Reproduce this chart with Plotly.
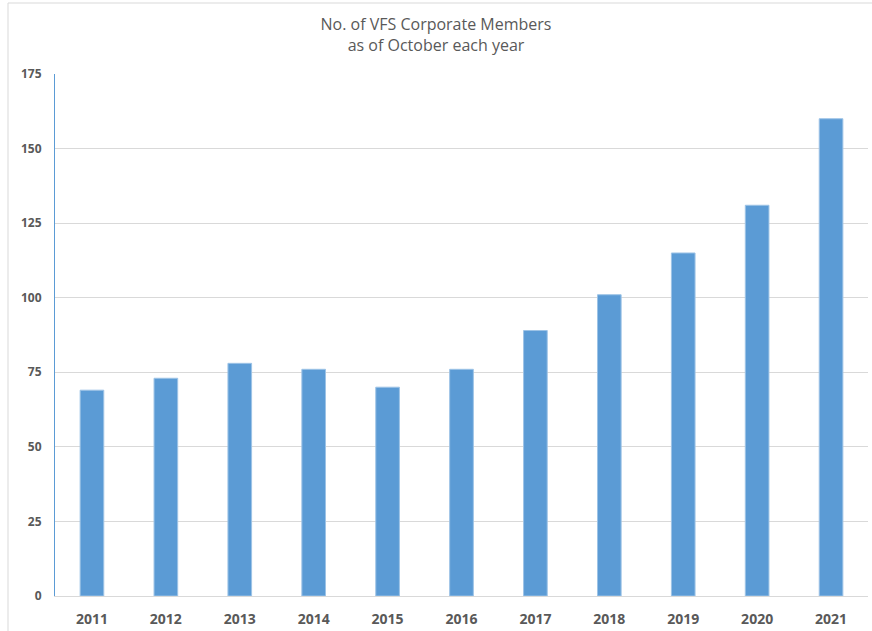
import plotly.graph_objects as go

years = ["2011", "2012", "2013", "2014", "2015", "2016", "2017", "2018", "2019", "2020", "2021"]
members = [69, 73, 78, 76, 70, 76, 89, 101, 115, 131, 160]
y_ticks = [0, 25, 50, 75, 100, 125, 150, 175]

fig = go.Figure(go.Bar(x=years, y=members, marker=dict(color="#5B9BD5", line=dict(color="#9DC3E6", width=1))))

fig.update_layout(
    width=872, height=631,
    paper_bgcolor="white", plot_bgcolor="white",
    margin=dict(l=55, r=4, t=74, b=35, autoexpand=False),
    bargap=0.68,
    showlegend=False,
    title=dict(text="No. of VFS Corporate Members<br>as of October each year",
               x=0.5, xanchor="center", y=0.952, yanchor="top",
               font=dict(family="Open Sans", size=16, color="#595959")),
    xaxis=dict(showgrid=False, showline=True, linecolor="#D9D9D9", linewidth=1,
               automargin=False,
               ticks="outside", ticklen=10, tickcolor="white",
               tickfont=dict(family="Open Sans", size=14, color="#595959", weight="bold")),
    yaxis=dict(range=[0, 175], tickvals=y_ticks, showgrid=True, gridcolor="#D9D9D9", gridwidth=1,
               showline=True, linecolor="#5B9BD5", linewidth=1, zeroline=False,
               automargin=False,
               ticks="outside", ticklen=10, tickcolor="white",
               tickfont=dict(family="Open Sans", size=12, color="#595959", weight="bold")),
    shapes=[dict(type="rect", xref="paper", yref="paper",
                 x0=-47/813, x1=1.01, y0=-0.2, y1=(631 - 3 - 35) / 522,
                 line=dict(color="#D9D9D9", width=1), layer="below")],
)

fig.write_html("out.html", config={"displayModeBar": False},
               post_script="document.body.style.margin='0';document.body.style.overflow='hidden';")
